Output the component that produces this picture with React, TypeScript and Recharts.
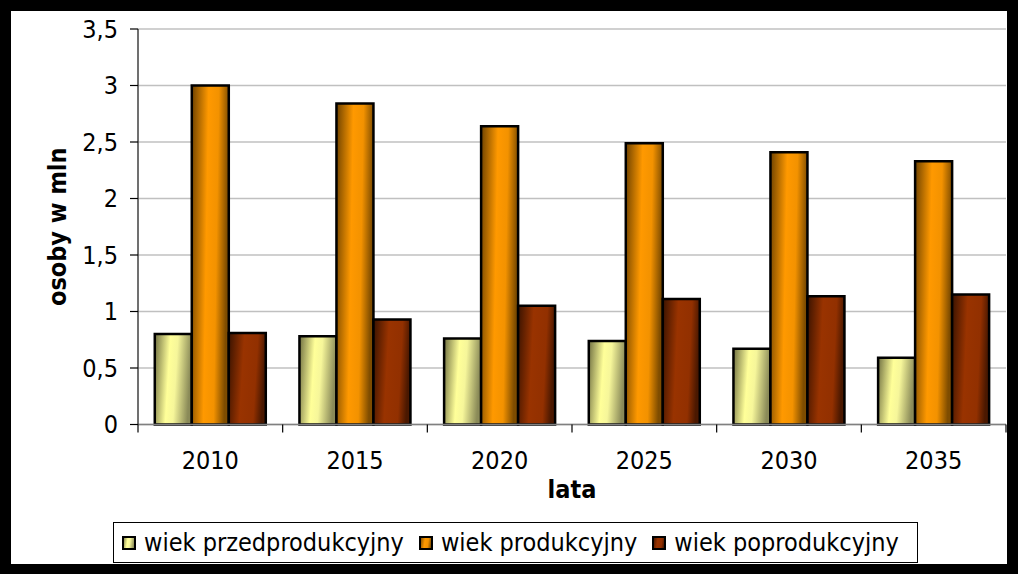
import { BarChart, Bar, XAxis, YAxis, CartesianGrid, Legend } from "recharts";

const YEARS = ["2010", "2015", "2020", "2025", "2030", "2035"];
const PRE_PRODUCTIVE = [0.8, 0.78, 0.76, 0.74, 0.67, 0.59];
const PRODUCTIVE = [3.0, 2.84, 2.64, 2.49, 2.41, 2.33];
const POST_PRODUCTIVE = [0.81, 0.93, 1.05, 1.11, 1.135, 1.15];
const Y_TICKS = [0, 0.5, 1, 1.5, 2, 2.5, 3, 3.5];

const SERIES = [
  { key: "pre", name: "wiek przedprodukcyjny", grad: "gradPre" },
  { key: "prod", name: "wiek produkcyjny", grad: "gradProd" },
  { key: "post", name: "wiek poprodukcyjny", grad: "gradPost" },
];

const DATA = YEARS.map((year, i) => ({
  year,
  pre: PRE_PRODUCTIVE[i],
  prod: PRODUCTIVE[i],
  post: POST_PRODUCTIVE[i],
}));

const FONT = "'DejaVu Sans Condensed', 'DejaVu Sans', sans-serif";
const FS = 25;

function YearTick(props: any) {
  const { x, y, payload, index, width, visibleTicksCount } = props;
  const half = payload.offset || width / visibleTicksCount / 2;
  const last = index === visibleTicksCount - 1;
  return (
    <g>
      <line x1={x - half} y1={y} x2={x - half} y2={y + 8} stroke="#000" strokeWidth={1.2} />
      {last && <line x1={x + half} y1={y} x2={x + half} y2={y + 8} stroke="#000" strokeWidth={1.2} />}
      <text x={x} y={y + 44.5} textAnchor="middle" fontSize={FS} fontFamily={FONT} fontStretch="condensed" fill="#000">
        {payload.value}
      </text>
    </g>
  );
}

function LegendBox() {
  return (
    <div
      style={{
        display: "flex",
        alignItems: "center",
        border: "1px solid #000",
        height: 39,
        paddingLeft: 8,
        background: "#fff",
        fontFamily: FONT,
        fontStretch: "condensed",
        fontSize: FS,
        color: "#000",
        whiteSpace: "nowrap",
      }}
    >
      {SERIES.map((s) => (
        <div key={s.key} style={{ display: "flex", alignItems: "center", marginRight: 15 }}>
          <svg width={14} height={14} style={{ display: "block" }}>
            <rect x={1} y={1} width={12} height={12} fill={`url(#${s.grad})`} stroke="#000" strokeWidth={2} />
          </svg>
          <span style={{ marginLeft: 8 }}>{s.name}</span>
        </div>
      ))}
    </div>
  );
}

export default function App() {
  return (
    <div style={{ position: "fixed", left: 0, top: 0, width: 1018, height: 574, background: "#000" }}>
      <div style={{ position: "absolute", left: 11, top: 11, width: 996, height: 553, background: "#fff" }}>
        <BarChart
          width={996}
          height={553}
          data={DATA}
          margin={{ top: 18, right: 1, left: 0, bottom: 0 }}
          barCategoryGap="11.6%"
          barGap={0}
        >
          <defs>
            <linearGradient id="gradPre" x1="0" y1="0" x2="1" y2="0.15">
              <stop offset="0" stopColor="#707042" />
              <stop offset="0.42" stopColor="#ffff99" />
              <stop offset="0.62" stopColor="#f6f69a" />
              <stop offset="1" stopColor="#8a8a58" />
            </linearGradient>
            <linearGradient id="gradProd" x1="0" y1="0" x2="1" y2="0.15">
              <stop offset="0" stopColor="#6e4200" />
              <stop offset="0.45" stopColor="#ff9900" />
              <stop offset="0.72" stopColor="#f39200" />
              <stop offset="1" stopColor="#7e4c00" />
            </linearGradient>
            <linearGradient id="gradPost" x1="0" y1="0" x2="1" y2="0.15">
              <stop offset="0" stopColor="#3a1300" />
              <stop offset="0.42" stopColor="#993300" />
              <stop offset="0.78" stopColor="#923000" />
              <stop offset="1" stopColor="#4a1800" />
            </linearGradient>
          </defs>
          <CartesianGrid vertical={false} stroke="#c0c0c0" strokeWidth={1.5} />
          <XAxis
            dataKey="year"
            height={98.5}
            axisLine={{ stroke: "#808080", strokeWidth: 1.5 }}
            tickLine={false}
            tickSize={0}
            tickMargin={0}
            interval={0}
            tick={<YearTick />}
            label={{
              content: ({ viewBox }: any) => (
                <text
                  x={viewBox.x + viewBox.width / 2}
                  y={viewBox.y + 73.5}
                  textAnchor="middle"
                  fontSize={FS}
                  fontWeight="bold"
                  fontFamily={FONT}
                  fontStretch="condensed"
                  fill="#000"
                >
                  lata
                </text>
              ),
            }}
          />
          <XAxis xAxisId="top" dataKey="year" orientation="top" height={0} tick={false} tickLine={false} axisLine={{ stroke: "#808080", strokeWidth: 2 }} />
          <YAxis
            width={127}
            domain={[0, 3.5]}
            ticks={Y_TICKS}
            interval={0}
            tickSize={8}
            tickMargin={12}
            tickLine={{ stroke: "#000", strokeWidth: 1.2 }}
            axisLine={{ stroke: "#404040", strokeWidth: 1.5 }}
            tickFormatter={(v: number) => String(v).replace(".", ",")}
            tick={{ fontSize: FS, fontFamily: FONT, fontStretch: "condensed", fill: "#000" }}
            label={{
              content: ({ viewBox }: any) => {
                const cx = viewBox.x + 55;
                const cy = viewBox.y + viewBox.height / 2;
                return (
                  <text
                    x={cx}
                    y={cy}
                    transform={`rotate(-90 ${cx} ${cy})`}
                    textAnchor="middle"
                    fontSize={FS}
                    fontWeight="bold"
                    fontFamily={FONT}
                    fontStretch="condensed"
                    fill="#000"
                  >
                    osoby w mln
                  </text>
                );
              },
            }}
          />
          <YAxis yAxisId="right" orientation="right" width={0} domain={[0, 3.5]} tick={false} tickLine={false} axisLine={{ stroke: "#808080", strokeWidth: 2 }} />
          <Legend
            verticalAlign="bottom"
            content={<LegendBox />}
            wrapperStyle={{ left: 102, width: 805, bottom: 1 }}
          />
          {SERIES.map((s) => (
            <Bar
              key={s.key}
              dataKey={s.key}
              name={s.name}
              fill={`url(#${s.grad})`}
              stroke="#000"
              strokeWidth={2.5}
              isAnimationActive={false}
            />
          ))}
        </BarChart>
      </div>
    </div>
  );
}
